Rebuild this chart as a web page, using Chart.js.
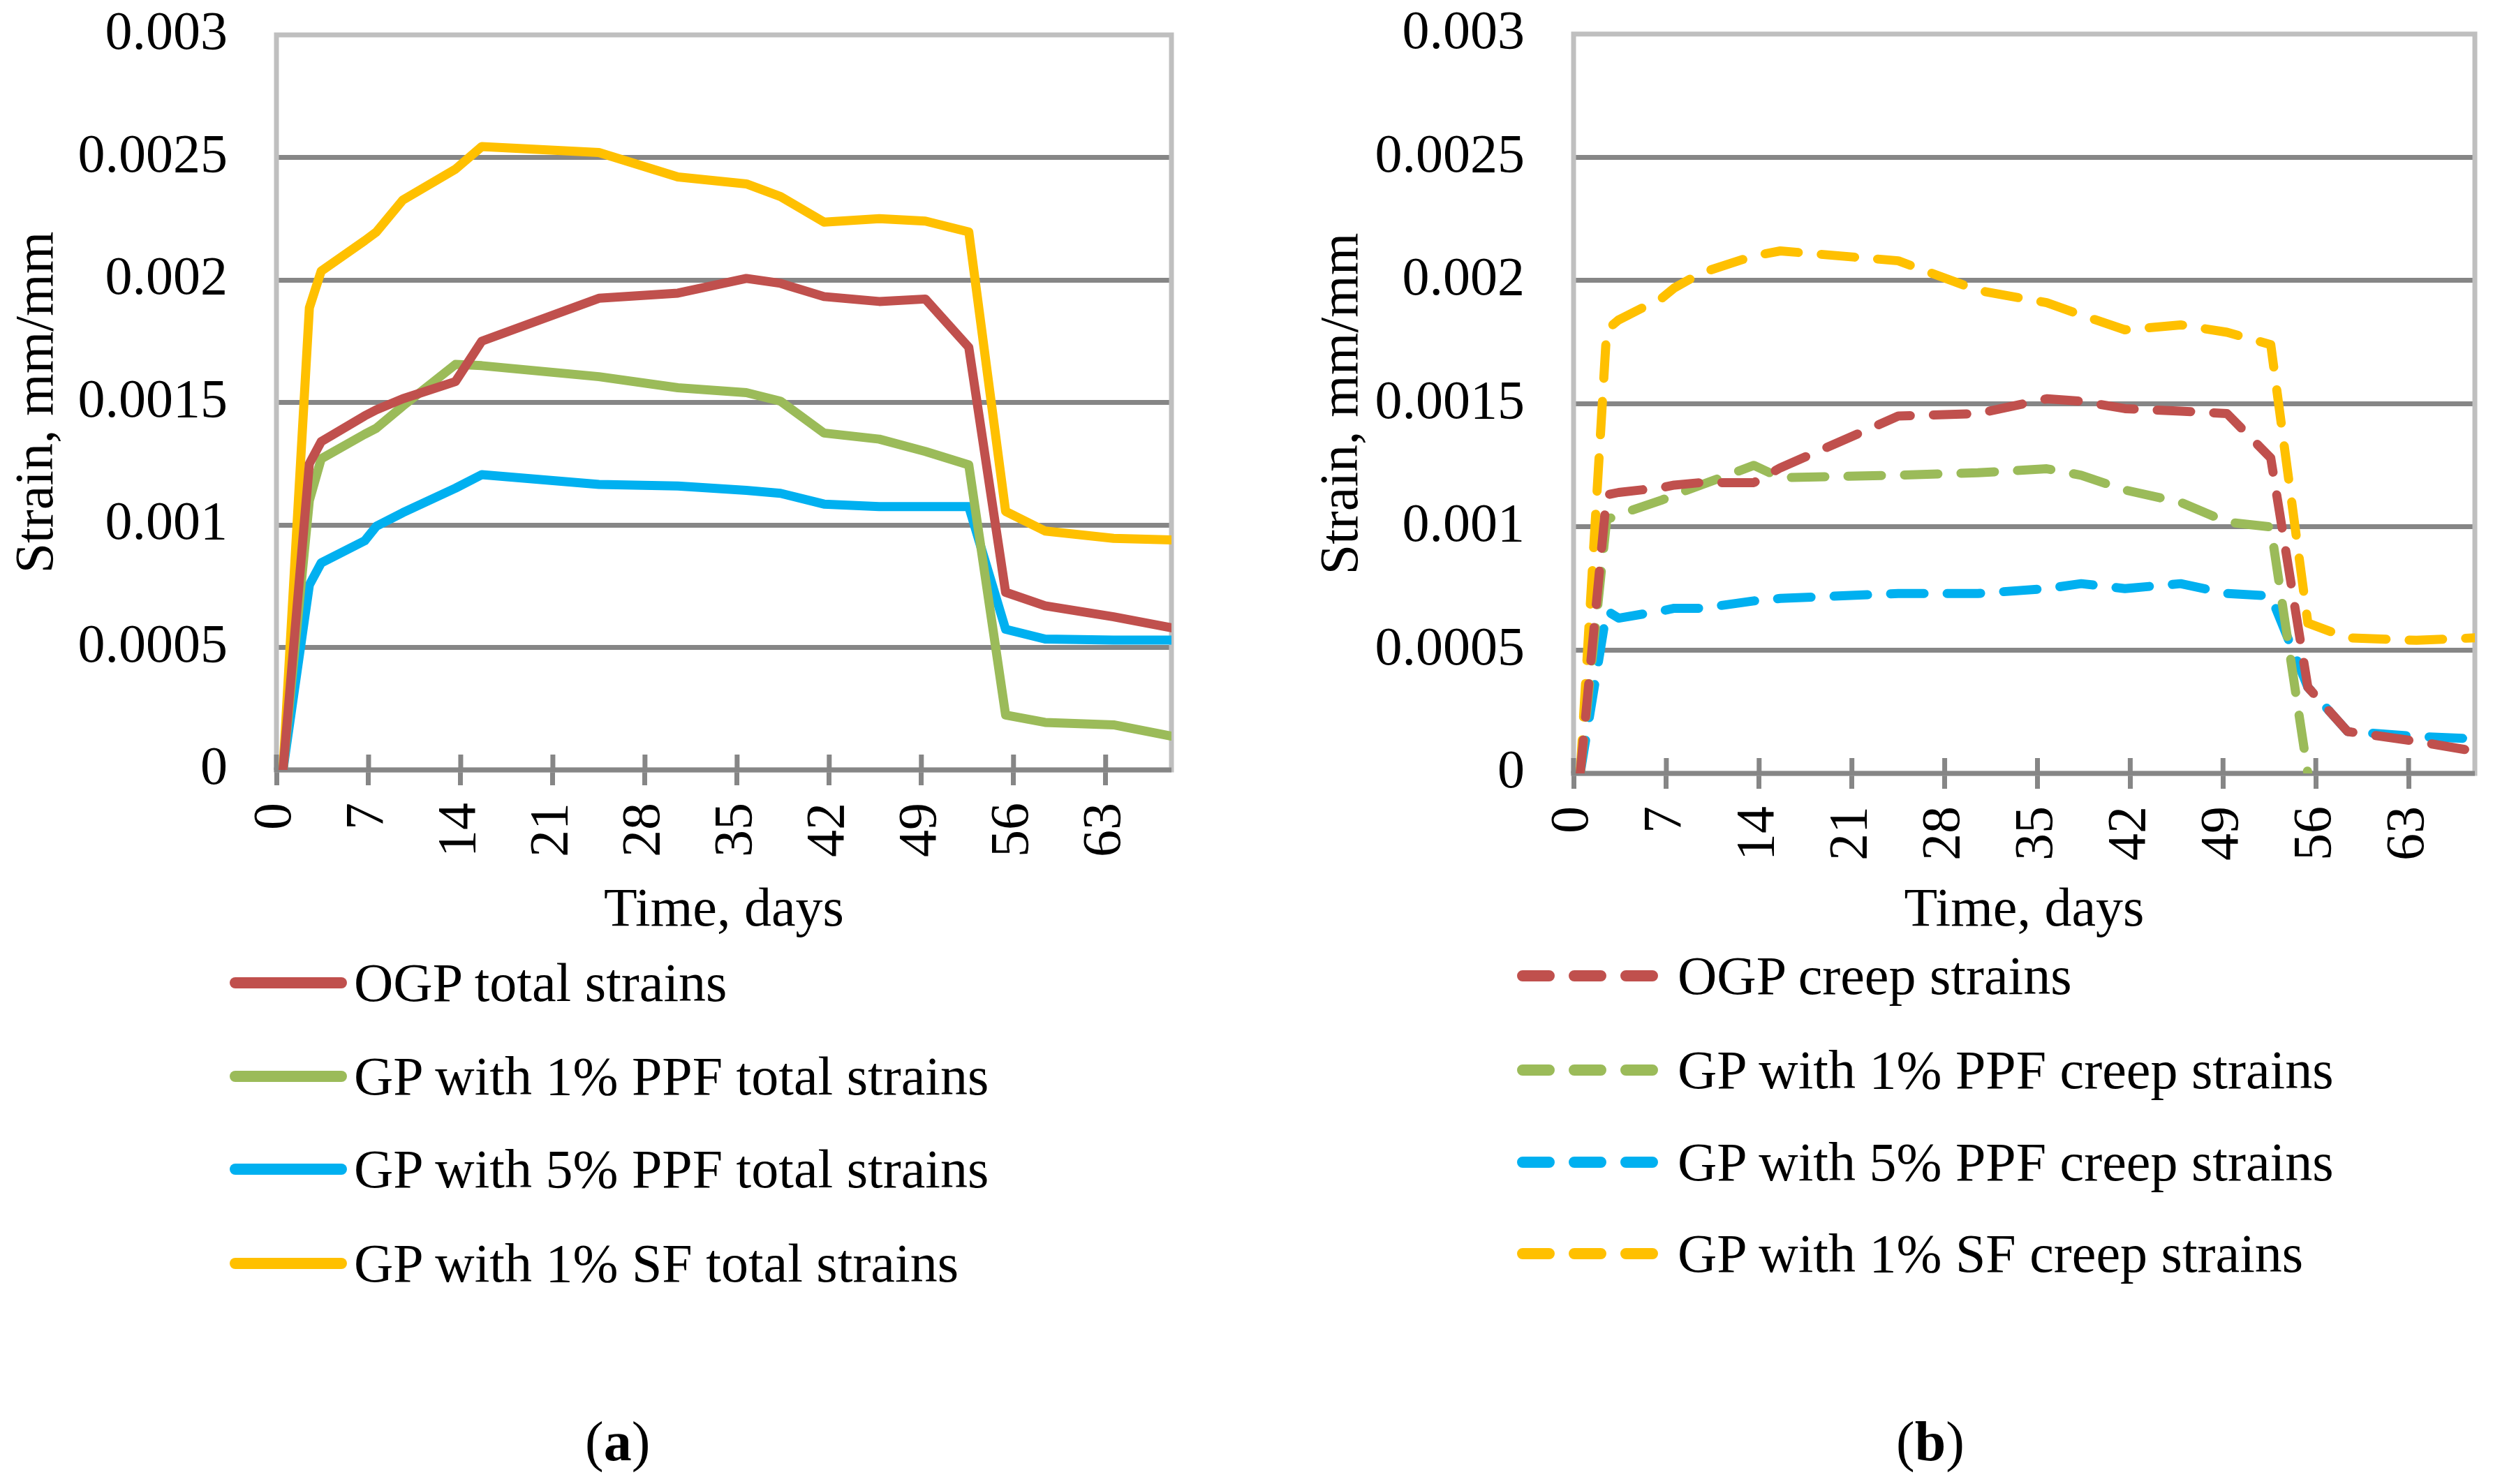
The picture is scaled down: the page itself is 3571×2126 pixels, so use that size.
<!DOCTYPE html>
<html><head><meta charset="utf-8">
<script src="https://cdn.jsdelivr.net/npm/chart.js@4.4.0/dist/chart.umd.min.js"></script>
<style>
html,body{margin:0;padding:0;background:#fff;}
body{width:3571px;height:2126px;position:relative;overflow:hidden;font-family:"Liberation Serif","Times New Roman",serif;color:#000;}
canvas{position:absolute;top:0;}
#cA{left:0;} #cB{left:1800px;}
.row{position:absolute;height:100px;line-height:100px;font-size:78px;white-space:nowrap;}
.row svg{position:absolute;left:0;top:0;}
.row span{position:absolute;top:0;}
.cap{position:absolute;font-size:80px;line-height:100px;height:100px;white-space:nowrap;}
</style></head><body>
<canvas id="cA" width="1760" height="1360"></canvas>
<canvas id="cB" width="1771" height="1360"></canvas>
<div id="legA"></div><div id="legB"></div>
<div class="cap" style="left:838px;top:2015px;">(<b>a</b>)</div>
<div class="cap" style="left:2716px;top:2015px;">(<b>b</b>)</div>
<script>
// ---------- data ----------
const days = [0.5, 2.5, 3.4, 6.7, 7.6, 9.6, 13.6, 15.6, 24.5, 30.5, 35.7, 38.3, 41.6, 45.8, 49.3, 52.6, 55.4, 58.4, 63.6, 68];
const xTickStep = 7;
const yTickLabels = ["0", "0.0005", "0.001", "0.0015", "0.002", "0.0025", "0.003"];

const namesA = ["OGP total strains", "GP with 1% PPF total strains", "GP with 5% PPF total strains", "GP with 1% SF total strains"];
const namesB = ["OGP creep strains", "GP with 1% PPF creep strains", "GP with 5% PPF creep strains", "GP with 1% SF creep strains"];
const colors = ["#C0504D", "#9BBB59", "#00B0F0", "#FFC000"];

const ogpTotal  = [0, 0.00125, 0.00134, 0.001445, 0.00147, 0.001515, 0.001585, 0.00175, 0.001925, 0.001946, 0.002006, 0.001986, 0.001932, 0.001912, 0.001922, 0.001725, 0.000725, 0.00067, 0.000625, 0.00058];
const ppf1Total = [0, 0.0011, 0.00127, 0.00137, 0.001395, 0.001485, 0.001655, 0.00165, 0.001605, 0.00156, 0.00154, 0.001505, 0.001375, 0.00135, 0.0013, 0.001245, 0.000224, 0.000194, 0.000184, 0.000138];
const ppf5Total = [0, 0.000755, 0.000845, 0.000935, 0.000995, 0.00105, 0.00115, 0.001205, 0.001165, 0.001159, 0.001141, 0.001129, 0.001085, 0.001075, 0.001075, 0.001075, 0.000574, 0.000534, 0.00053, 0.00053];
const sf1Total  = [0, 0.001886, 0.002036, 0.00216, 0.002196, 0.002326, 0.002452, 0.002544, 0.00252, 0.00242, 0.002392, 0.00234, 0.002236, 0.00225, 0.00224, 0.002196, 0.001055, 0.000975, 0.000945, 0.000939];

const ogpCreep  = [0, 0.00113, 0.00114, 0.00116, 0.00117, 0.00118, 0.00118, 0.00124, 0.00145, 0.00146, 0.00152, 0.00151, 0.00148, 0.00147, 0.00146, 0.00128, 0.00035, 0.00017, 0.00013, 0.00009];
const ppf1Creep = [0, 0.00103, 0.00105, 0.00111, 0.00113, 0.00117, 0.00125, 0.0012, 0.00121, 0.00122, 0.001236, 0.00121, 0.00115, 0.0011, 0.00102, 0.001, 0, null, null, null];
const ppf5Creep = [0, 0.00066, 0.00063, 0.00066, 0.00067, 0.00067, 0.0007, 0.00071, 0.00073, 0.00073, 0.00075, 0.00077, 0.00075, 0.00077, 0.00073, 0.00072, 0.00035, 0.00017, 0.00015, 0.00014];
const sf1Creep  = [0, 0.0018, 0.00184, 0.00193, 0.00197, 0.00203, 0.0021, 0.00212, 0.00208, 0.00196, 0.00191, 0.00186, 0.0018, 0.00182, 0.00179, 0.00174, 0.00061, 0.00055, 0.00054, 0.00055];

// ---------- rendering ----------
const FONT = '"Liberation Serif", "Times New Roman", serif';
const FS = 78;
const GRID = '#868686', FRAME = '#bfbfbf';

const framePlugin = {
  id: 'frame',
  beforeDatasetsDraw(chart) {
    const {ctx, chartArea: a} = chart;
    ctx.save();
    ctx.lineWidth = 7;
    ctx.strokeStyle = FRAME;
    ctx.strokeRect(a.left, a.top, a.right - a.left, a.bottom - a.top);
    ctx.strokeStyle = GRID;
    ctx.beginPath(); ctx.moveTo(a.left - 3.5, a.bottom); ctx.lineTo(a.right, a.bottom); ctx.stroke();
    const xs = chart.scales.x;
    xs.ticks.forEach(t => {
      const px = xs.getPixelForValue(t.value);
      ctx.beginPath(); ctx.moveTo(px, a.bottom - 22); ctx.lineTo(px, a.bottom); ctx.stroke();
    });
    ctx.restore();
  }
};

function series(vals) { return days.map((d, i) => ({x: d, y: vals[i]})); }

function makeChart(id, names, data, cfg) {
  const datasets = data.map((v, i) => ({
    label: names[i], data: series(v), borderColor: colors[i], backgroundColor: colors[i],
    borderWidth: 13, pointRadius: 0, tension: 0, spanGaps: false,
    borderDash: cfg.dash, borderCapStyle: 'round', borderJoinStyle: 'round'
  }));
  return new Chart(document.getElementById(id), {
    type: 'line',
    data: {datasets},
    plugins: [framePlugin],
    options: {
      responsive: false, animation: false, devicePixelRatio: 1,
      layout: {padding: {top: cfg.top, right: cfg.right, left: 0, bottom: 0}},
      plugins: {legend: {display: false}, tooltip: {enabled: false}},
      scales: {
        x: {
          type: 'linear', min: 0, max: 68,
          afterFit: s => { s.height = cfg.xh; },
          ticks: {stepSize: xTickStep, includeBounds: false, autoSkip: false, minRotation: 90, maxRotation: 90,
                  padding: 25, color: '#000', font: {family: FONT, size: FS}},
          grid: {display: true, drawOnChartArea: false, drawTicks: true, tickLength: 22, tickWidth: 7, tickColor: GRID, color: GRID, lineWidth: 7},
          border: {display: false},
          title: {display: true, text: 'Time, days', color: '#000', font: {family: FONT, size: FS}, padding: {top: 0, bottom: 8}}
        },
        y: {
          min: 0, max: 0.003,
          afterFit: s => { s.width = cfg.yw; },
          ticks: {stepSize: 0.0005, padding: 2, color: '#000', font: {family: FONT, size: FS},
                  callback: (v) => yTickLabels[Math.round(v / 0.0005)]},
          grid: {drawTicks: true, tickLength: 68, tickColor: 'rgba(0,0,0,0)', lineWidth: 7,
                 color: c => (c.index === 0 || c.index === yTickLabels.length - 1) ? 'rgba(0,0,0,0)' : GRID},
          border: {display: false},
          title: {display: true, text: 'Strain, mm/mm', color: '#000', font: {family: FONT, size: FS}, padding: {top: cfg.titlePad, bottom: 0}}
        }
      }
    }
  });
}

makeChart('cA', namesA, [ogpTotal, ppf1Total, ppf5Total, sf1Total], {top: 50, right: 82, xh: 257, yw: 396, titlePad: 8, dash: []});
makeChart('cB', namesB, [ogpCreep, ppf1Creep, ppf5Creep, sf1Creep], {top: 46, right: 26, xh: 252, yw: 454, titlePad: 77, dash: [48, 33]});

// ---------- legends (HTML) ----------
function legend(hostId, names, left, rows, swW, textX, dashed) {
  const host = document.getElementById(hostId);
  names.forEach((n, i) => {
    const row = document.createElement('div');
    row.className = 'row';
    row.style.left = left + 'px';
    row.style.top = (rows[i] - 50) + 'px';
    const line = dashed
      ? `<line x1="8" y1="50" x2="${swW - 8}" y2="50" stroke="${colors[i]}" stroke-width="16" stroke-linecap="round" stroke-dasharray="38 36"/>`
      : `<line x1="8" y1="50" x2="${swW - 8}" y2="50" stroke="${colors[i]}" stroke-width="16" stroke-linecap="round"/>`;
    row.innerHTML = `<svg width="${swW}" height="100">${line}</svg><span style="left:${textX}px">${n}</span>`;
    host.appendChild(row);
  });
}
legend('legA', namesA, 329, [1408, 1542, 1675, 1810], 168, 178, false);
legend('legB', namesB, 2173, [1398, 1533, 1665, 1796], 203, 230, true);
</script>
</body></html>
